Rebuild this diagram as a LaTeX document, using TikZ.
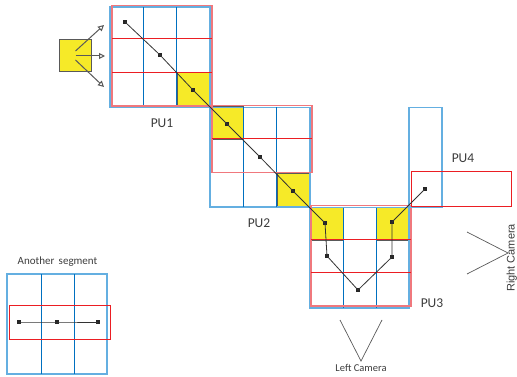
\documentclass[tikz,border=0pt]{standalone}
\usepackage{fontspec}
\setmainfont{Carlito}
\newfontfamily\camfont{Liberation Sans}
\usetikzlibrary{arrows.meta, positioning, calc}
\definecolor{colblue}{RGB}{0,112,192}
\definecolor{colbluelt}{RGB}{100,175,225}
\definecolor{rowred}{RGB}{235,30,35}
\definecolor{rowredlt}{RGB}{240,120,125}
\definecolor{hityellow}{RGB}{246,234,40}
\definecolor{txtgray}{RGB}{60,60,60}

\tikzset{
	colbox/.style={draw=colbluelt, line width=1.3pt},
	colline/.style={draw=colblue, line width=1pt},
	rowbox/.style={draw=rowredlt, line width=1.3pt},
	rowline/.style={draw=rowred, line width=1pt},
	hit/.style={fill=hityellow, draw=gray!70!black, line width=1pt},
	dot/.style={fill=black!85, inner sep=0pt, minimum size=3.2pt},
	track/.style={draw=black!80, line width=0.8pt},
	pulabel/.style={text=txtgray, font=\fontsize{13.5}{14}\selectfont},
	cam/.style={draw=black!65, line width=0.7pt},
	feed/.style={draw=black!65, line width=1pt, -{Triangle[open, length=6pt, width=6pt]}}
}

\begin{document}
\begin{tikzpicture}[x=1pt, y=-1pt]
			\useasboundingbox (0,0) rectangle (517,377);
			% yellow cells
			\draw[hit] (177,73) rectangle (210,106);
			\draw[hit] (210,107) rectangle (243,140);
			\draw[hit] (277,174) rectangle (310,207);
			\draw[hit] (310,207) rectangle (343,240);
			\draw[hit] (376,207) rectangle (409,240);
			% PU1
			\draw[colbox] (110,7) rectangle (210,107);
			\draw[colline] (143.3,7) -- (143.3,107) (176.7,7) -- (176.7,107);
			\draw[rowbox] (112,5.5) rectangle (212,106);
			\draw[rowline] (112,39) -- (212,39) (112,72.5) -- (212,72.5);
			% PU2
			\draw[colbox] (210,107.5) rectangle (310,207);
			\draw[colline] (243.3,107.5) -- (243.3,207) (276.7,107.5) -- (276.7,207);
			\draw[rowbox] (212,105.5) rectangle (312,172.5);
			\draw[rowline] (212,139) -- (312,139);
			% PU3
			\draw[colbox] (310,207.5) rectangle (409,308);
			\draw[colline] (343,207.5) -- (343,308) (376,207.5) -- (376,308);
			\draw[rowbox] (311,205.5) rectangle (411,306);
			\draw[rowline] (311,239.5) -- (411,239.5) (311,272.5) -- (411,272.5);
			% PU4
			\draw[colbox] (409,107.5) rectangle (442,207);
			\draw[rowline] (411,172) rectangle (511,206);
			% another segment
			\draw[colbox] (7,274) rectangle (107,374);
			\draw[colline] (41,274) -- (41,374) (74,274) -- (74,374);
			\draw[rowline] (9,305) rectangle (110,339);

			% track points
			\node[dot] (p1) at (125,22) {};
			\node[dot] (p2) at (160,55) {};
			\node[dot] (p3) at (193,90) {};
			\node[dot] (p4) at (227,124) {};
			\node[dot] (p5) at (260,157) {};
			\node[dot] (p6) at (293,191) {};
			\node[dot] (p7) at (325,223) {};
			\node[dot] (p8) at (327,256) {};
			\node[dot] (p9) at (358,290) {};
			\node[dot] (p10) at (392,257) {};
			\node[dot] (p11) at (392,222) {};
			\node[dot] (p12) at (425,189) {};
			\draw[track] (p1.center) -- (p2.center) -- (p3.center) -- (p4.center)
				-- (p5.center) -- (p6.center) -- (p7.center) -- (p8.center)
				-- (p9.center) -- (p10.center) -- (p11.center) -- (p12.center);
			\node[dot] (q1) at (19,322) {};
			\node[dot] (q2) at (57,322) {};
			\node[dot] (q3) at (98,322) {};
			\draw[track] (q1.center) -- (q2.center) -- (q3.center);

			% source block
			\node[hit, minimum size=32pt, inner sep=0pt] (src) at (75.5,56) {};
			\coordinate (fa) at (104,25);
			\coordinate (fb) at (105,56);
			\coordinate (fc) at (104,87);
			\draw[feed] ($(src.center)+(0,-5)$) -- (fa);
			\draw[feed] (src.center) -- (fb);
			\draw[feed] ($(src.center)+(0,4)$) -- (fc);

			% labels
			\node[pulabel] (pu1) at (162,123) {PU1};
			\node[pulabel] (pu2) at (259,223) {PU2};
			\node[pulabel] (pu3) at (432,303) {PU3};
			\node[pulabel] (pu4) at (463,158) {PU4};
			\node[text=txtgray, font=\fontsize{11}{12}\selectfont] (seg) at (57.5,262) {Another\, segment};

			% cameras
			\coordinate (lc) at (361,361);
			\coordinate (la) at (340,320);
			\coordinate (lb) at (382,320);
			\draw[cam] (la) -- (lc) -- (lb);
			\node[text=txtgray, font=\fontsize{10.5}{11}\selectfont, below=0pt of lc] (lcam) {Left Camera};
			\coordinate (rc) at (508,253);
			\coordinate (ra) at (467,232);
			\coordinate (rb) at (467,274);
			\draw[cam] (ra) -- (rc) -- (rb);
			\node[text=txtgray, font=\camfont\fontsize{11}{12}\selectfont, rotate=90, anchor=south, inner sep=0pt] (rcam) at (517,258) {Right Camera};
		\end{tikzpicture}
\end{document}
